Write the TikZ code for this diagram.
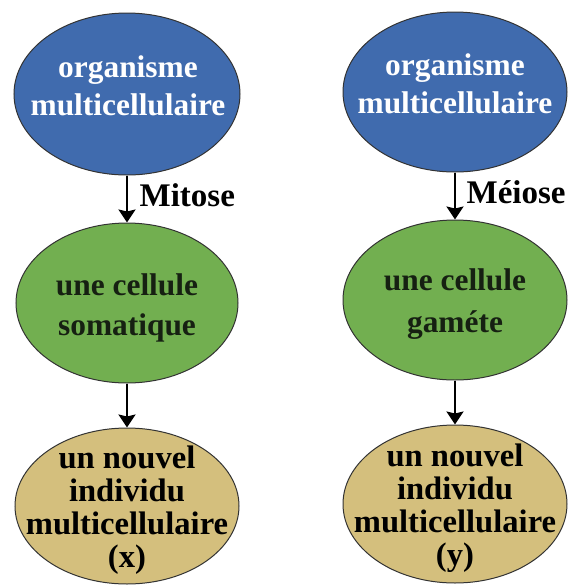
\documentclass[tikz,border=0pt]{standalone}
\usepackage{fontspec}
\setmainfont{Liberation Serif}
\usepackage{xcolor}
\usetikzlibrary{shapes.geometric,arrows.meta}
\definecolor{myblue}{RGB}{64,107,174}
\definecolor{mygreen}{RGB}{114,175,80}
\definecolor{mytan}{RGB}{212,191,125}
\definecolor{mydark}{RGB}{22,32,18}

\tikzset{
  bulle/.style={ellipse, draw=black!80, line width=0.5pt, inner sep=0pt},
  texte/.style={align=center, font=\bfseries\fontsize{15.7}{19}\selectfont},
  fleche/.style={-{Stealth[length=6.5pt,width=8.5pt,inset=1pt]}, line width=1pt},
  processus/.style={font=\bfseries\fontsize{16.5}{19}\selectfont, anchor=west}
}

\begin{document}
\begin{tikzpicture}[x=0.5pt, y=-0.5pt]
            \useasboundingbox (0,0) rectangle (578,585);
            % colonne de gauche
            \node[bulle, fill=myblue, minimum width=113pt, minimum height=81pt] (orgX) at (127,94) {};
            \node[texte, text=white] at (128,86) {organisme\\multicellulaire};
            \node[bulle, fill=mygreen, minimum width=111pt, minimum height=80pt] (celX) at (127,303) {};
            \node[texte, text=mydark, font=\bfseries\fontsize{15.7}{20}\selectfont] at (127,308) {une cellule\\somatique};
            \node[bulle, fill=mytan, minimum width=112pt, minimum height=78pt] (indX) at (127,506) {};
            \node[texte, font=\bfseries\fontsize{16.3}{16.5}\selectfont] at (127,510) {un nouvel\\individu\\multicellulaire\\(x)};
            % colonne de droite
            \node[bulle, fill=myblue, minimum width=112pt, minimum height=80pt] (orgY) at (455,92) {};
            \node[texte, text=white] at (455,84) {organisme\\multicellulaire};
            \node[bulle, fill=mygreen, minimum width=112pt, minimum height=80pt] (celY) at (455,300) {};
            \node[texte, text=mydark, font=\bfseries\fontsize{15.7}{21}\selectfont] at (455,304) {une cellule\\gaméte};
            \node[bulle, fill=mytan, minimum width=112pt, minimum height=79pt] (indY) at (455,504) {};
            \node[texte, font=\bfseries\fontsize{16.3}{16.5}\selectfont] at (455,508) {un nouvel\\individu\\multicellulaire\\(y)};
            % fleches
            \draw[fleche] (orgX.south) -- (celX.north) node[processus, midway, xshift=2.5pt, yshift=2pt] {Mitose};
            \draw[fleche] (celX.south) -- (indX.north);
            \draw[fleche] (orgY.south) -- (celY.north) node[processus, midway, xshift=2pt, yshift=2pt] {Méiose};
            \draw[fleche] (celY.south) -- (indY.north);
        \end{tikzpicture}
\end{document}
